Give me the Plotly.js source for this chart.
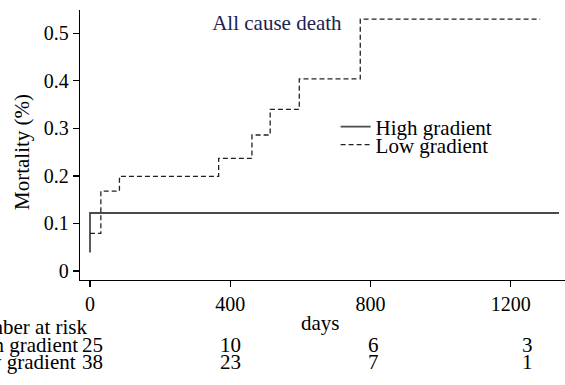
<!DOCTYPE html>
<html>
<head>
<meta charset="utf-8">
<script src="https://cdn.plot.ly/plotly-3.0.1.min.js"></script>
<style>html,body{margin:0;padding:0;background:#fff;}#chart{width:565px;height:385px;}</style>
</head>
<body>
<div id="chart"></div>
<script>
// Kaplan-Meier style cumulative mortality
const highDays = [0, 0, 1338];
const highMort = [0.039, 0.122, 0.122];
const lowDays = [0, 31, 84, 367, 462, 514, 597, 771, 1284];
const lowMort = [0.079, 0.168, 0.199, 0.237, 0.286, 0.340, 0.404, 0.530, 0.530];

// Number at risk table
const riskDays = [0, 400, 800, 1200];
const riskHigh = [25, 10, 6, 3];
const riskLow = [38, 23, 7, 1];
const groupNames = ["High gradient", "Low gradient"];

const yTicks = [0, 0.1, 0.2, 0.3, 0.4, 0.5];
const xTicks = [0, 400, 800, 1200];

const FONT = "Liberation Serif, Times New Roman, serif";
const colShift = [3, 0, 3, 17];

const traces = [
  {x: highDays, y: highMort, name: groupNames[0], mode: "lines", legend: "legend",
   line: {shape: "hv", color: "#4a4a4a", width: 1.8}},
  {x: lowDays, y: lowMort, name: groupNames[1], mode: "lines", legend: "legend2",
   line: {shape: "hv", color: "#222222", width: 1.3, dash: "5px,3px"}}
];

function txt(text, x, y, xanchor, extra) {
  return Object.assign({text: text, xref: "paper", yref: "paper", x: x, y: y,
    showarrow: false, xanchor: xanchor, yanchor: "middle",
    font: {family: FONT, size: 21, color: "#000"}}, extra || {});
}

const annotations = [
  txt("Mortality (%)", -0.1196, 0.474, "center", {textangle: -90}),
  txt("days", 0.495, -0.16, "center"),
  txt("Number at risk", 0.0186, -0.174, "right"),
  txt(groupNames[0], 0.0, -0.2407, "right"),
  txt(groupNames[1], -0.004, -0.3037, "right")
];
riskDays.forEach((d, i) => {
  annotations.push(txt(String(riskHigh[i]), d, -0.2407, "center", {xref: "x", xshift: colShift[i]}));
  annotations.push(txt(String(riskLow[i]), d, -0.3037, "center", {xref: "x", xshift: colShift[i]}));
});

const legendBase = {xanchor: "left", yanchor: "middle", bgcolor: "rgba(0,0,0,0)",
  font: {family: FONT, size: 21, color: "#000"}, itemwidth: 30};

const layout = {
  width: 565, height: 385,
  margin: {l: 80, r: 0, t: 10, b: 105, pad: 0},
  paper_bgcolor: "#fff", plot_bgcolor: "#fff",
  font: {family: FONT, size: 20, color: "#000"},
  title: {text: "All cause death", x: 0.406, xref: "paper", xanchor: "center",
          y: 0.94, yref: "container", yanchor: "middle",
          font: {family: FONT, size: 21, color: "#1c2152"}},
  xaxis: {range: [-28.5, 1355], tickvals: xTicks, ticks: "outside", ticklen: 6,
          tickwidth: 1.2, tickcolor: "#000", showline: true, linecolor: "#000",
          linewidth: 1.3, showgrid: false, zeroline: false,
          tickfont: {family: FONT, size: 20, color: "#000"}},
  yaxis: {range: [-0.019, 0.549], tickvals: yTicks, ticks: "outside", ticklen: 6,
          tickwidth: 1.2, tickcolor: "#000", showline: true, linecolor: "#000",
          linewidth: 1.3, showgrid: false, zeroline: false,
          tickfont: {family: FONT, size: 20, color: "#000"}},
  showlegend: true,
  legend: Object.assign({x: 0.527, y: 0.567}, legendBase),
  legend2: Object.assign({x: 0.527, y: 0.500}, legendBase),
  annotations: annotations
};

Plotly.newPlot("chart", traces, layout, {staticPlot: true, displayModeBar: false});
</script>
</body>
</html>
